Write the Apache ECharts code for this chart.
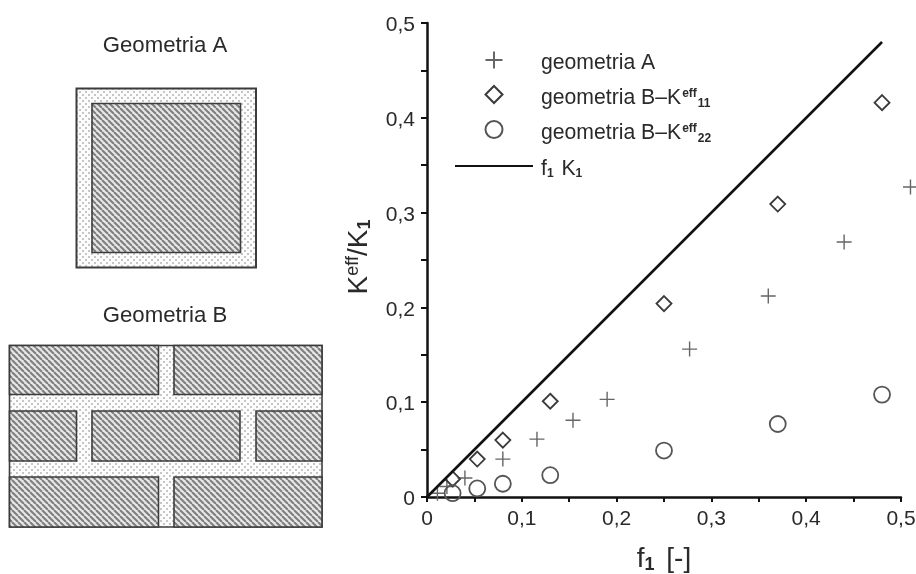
<!DOCTYPE html>
<html>
<head>
<meta charset="utf-8">
<style>html,body{margin:0;padding:0;background:#fff}#c{width:916px;height:574px}</style>
<script src="https://cdn.jsdelivr.net/npm/echarts@6/dist/echarts.min.js"></script>
</head>
<body>
<div id="c"></div>
<script>
const geometriaA = [[0.011,0.004],[0.021,0.011],[0.040,0.020],[0.080,0.040],[0.116,0.061],[0.154,0.081],[0.190,0.103],[0.277,0.156],[0.360,0.212],[0.440,0.269],[0.510,0.327]];
const geometriaBK11 = [[0.027,0.019],[0.053,0.040],[0.080,0.060],[0.130,0.101],[0.250,0.204],[0.370,0.309],[0.480,0.416]];
const geometriaBK22 = [[0.027,0.004],[0.053,0.009],[0.080,0.014],[0.130,0.023],[0.250,0.049],[0.370,0.077],[0.480,0.108]];
const f1K1 = [[0,0],[0.48,0.48]];
const xTicks = {0:'0',0.1:'0,1',0.2:'0,2',0.3:'0,3',0.4:'0,4',0.5:'0,5'};

const FONT = '"Liberation Sans", Arial, sans-serif';

function hatch() {
  const p = 6, c = document.createElement('canvas');
  c.width = c.height = p;
  const g = c.getContext('2d');
  g.fillStyle = '#e6e6e6'; g.fillRect(0,0,p,p);
  g.strokeStyle = '#7e7e7e'; g.lineWidth = 2;
  for (let i = -p; i <= p; i += p) {
    g.beginPath(); g.moveTo(i,0); g.lineTo(i+p,p); g.stroke();
  }
  return c;
}
function dots() {
  const p = 6, c = document.createElement('canvas');
  c.width = c.height = p;
  const g = c.getContext('2d');
  g.fillStyle = '#fcfcfc'; g.fillRect(0,0,p,p);
  g.fillStyle = '#c6c6c6';
  g.fillRect(1,1,2,2); g.fillRect(4,4,2,2);
  return c;
}
const hatchFill = {image: hatch(), repeat: 'repeat'};
const dotFill = {image: dots(), repeat: 'repeat'};

function box(x0,y0,x1,y1,fill,z,lw) {
  return {type:'rect', z:z, silent:true,
    shape:{x:x0,y:y0,width:x1-x0,height:y1-y0},
    style:{fill:fill, stroke:'#3c3c3c', lineWidth:lw||1.6}};
}
const geomABoxes = [[92,103.5,240.5,252.5]];
const geomBBoxes = [
  [9.5,345.5,158.5,394.5],[174,345.5,322,394.5],
  [9.5,411,76.5,461],[92,411,240,461],[256,411,322,461],
  [9.5,477,158.5,527],[174,477,322,527]
];
const diagram = [
  {type:'text', z:5, silent:true, style:{x:165,y:46,text:'Geometria A',align:'center',verticalAlign:'middle',font:'22.2px '+FONT,fill:'#2a2a2a'}},
  {type:'text', z:5, silent:true, style:{x:165,y:316,text:'Geometria B',align:'center',verticalAlign:'middle',font:'22.2px '+FONT,fill:'#2a2a2a'}},
  box(76.5,88.5,256,267.5,dotFill,5,2),
  ...geomABoxes.map(b=>box(b[0],b[1],b[2],b[3],hatchFill,6)),
  box(9.5,345.5,322,527,dotFill,5,1.6),
  ...geomBBoxes.map(b=>box(b[0],b[1],b[2],b[3],hatchFill,6))
];

const rich = {
  sup:{fontFamily:FONT,fontSize:12,fontWeight:'bold',color:'#2a2a2a',padding:[0,0,9,1]},
  sub:{fontFamily:FONT,fontSize:12,fontWeight:'bold',color:'#2a2a2a',padding:[12,0,0,1]},
  sub2:{fontFamily:FONT,fontSize:12,fontWeight:'bold',color:'#2a2a2a',padding:[8,2,0,0]}
};
const legendNames = {
  'geometria A':'geometria A',
  'geometria B-K11':'geometria B–K{sup|eff}{sub|11}',
  'geometria B-K22':'geometria B–K{sup|eff}{sub|22}',
  'f1 K1':'f{sub2|1} K{sub2|1}'
};
function legendRow(item, left, top) {
  return {
    orient:'vertical', left:left, top:top, padding:0, itemWidth:78, itemHeight:17,
    data:[item], formatter:n=>legendNames[n],
    textStyle:{fontFamily:FONT,fontSize:21.2,color:'#2a2a2a',padding:[7,0,0,3],rich:rich}
  };
}

const chart = echarts.init(document.getElementById('c'), null, {renderer:'canvas'});
chart.setOption({
  animation:false,
  backgroundColor:'#fff',
  graphic:diagram,
  grid:{left:427,top:23,width:474,height:474,outerBoundsMode:'none'},
  legend:[
    legendRow('geometria A',483,49),
    legendRow('geometria B-K11',483,83.5),
    legendRow('geometria B-K22',483,118.5),
    legendRow({name:'f1 K1',itemStyle:{opacity:0}},454,159)
  ],
  xAxis:{
    type:'value',min:0,max:0.5,interval:0.1,
    name:'f{s|1} [-]',nameLocation:'middle',nameGap:47,
    nameTextStyle:{fontFamily:FONT,fontSize:28,color:'#2a2a2a',
      rich:{s:{fontFamily:FONT,fontSize:18,fontWeight:'bold',color:'#2a2a2a',padding:[12,4,0,0]}}},
    axisLine:{show:true,onZero:false,lineStyle:{color:'#111',width:2.5}},
    axisTick:{show:true,length:5,lineStyle:{color:'#111',width:2}},
    minorTick:{show:true,splitNumber:2,length:5,lineStyle:{color:'#111',width:2}},
    splitLine:{show:false},
    axisLabel:{margin:12,fontFamily:FONT,fontSize:21,color:'#2a2a2a',hideOverlap:false,formatter:v=>xTicks[Math.round(v*10)/10]}
  },
  yAxis:{
    type:'value',min:0,max:0.5,interval:0.1,
    name:'K{u|eff}/K{d|1}',nameLocation:'middle',nameGap:53,nameRotate:90,
    nameTextStyle:{fontFamily:FONT,fontSize:28,color:'#2a2a2a',padding:[0,0,0,6],
      rich:{u:{fontFamily:FONT,fontSize:18,color:'#2a2a2a',padding:[0,0,12,0]},
            d:{fontFamily:FONT,fontSize:18,fontWeight:'bold',color:'#2a2a2a',padding:[12,0,0,0]}}},
    axisLine:{show:true,onZero:false,lineStyle:{color:'#111',width:2.5}},
    axisTick:{show:true,length:6,lineStyle:{color:'#111',width:2}},
    minorTick:{show:true,splitNumber:2,length:6,lineStyle:{color:'#111',width:2}},
    splitLine:{show:false},
    axisLabel:{margin:12,color:'#2a2a2a',
      rich:{t:{fontFamily:FONT,fontSize:21,color:'#2a2a2a',padding:[5,0,0,0]}},
      formatter:v=>'{t|'+xTicks[Math.round(v*10)/10]+'}'}
  },
  series:[
    {name:'geometria A',type:'scatter',data:geometriaA,clip:false,symbol:'path://M0 50H100M50 0V100',symbolSize:15,
      itemStyle:{color:'none',borderColor:'#666',borderWidth:1.4,opacity:1}},
    {name:'geometria B-K11',type:'scatter',data:geometriaBK11,clip:false,symbol:'path://M50 0L100 50L50 100L0 50Z',symbolSize:15,
      itemStyle:{color:'none',borderColor:'#3a3a3a',borderWidth:1.8,opacity:1}},
    {name:'geometria B-K22',type:'scatter',data:geometriaBK22,clip:false,symbol:'circle',symbolSize:16,
      itemStyle:{color:'none',borderColor:'#555',borderWidth:1.8,opacity:1}},
    {name:'f1 K1',type:'line',data:f1K1,clip:false,symbol:'none',lineStyle:{color:'#111',width:2.6},itemStyle:{color:'#111'}}
  ]
});
</script>
</body>
</html>
